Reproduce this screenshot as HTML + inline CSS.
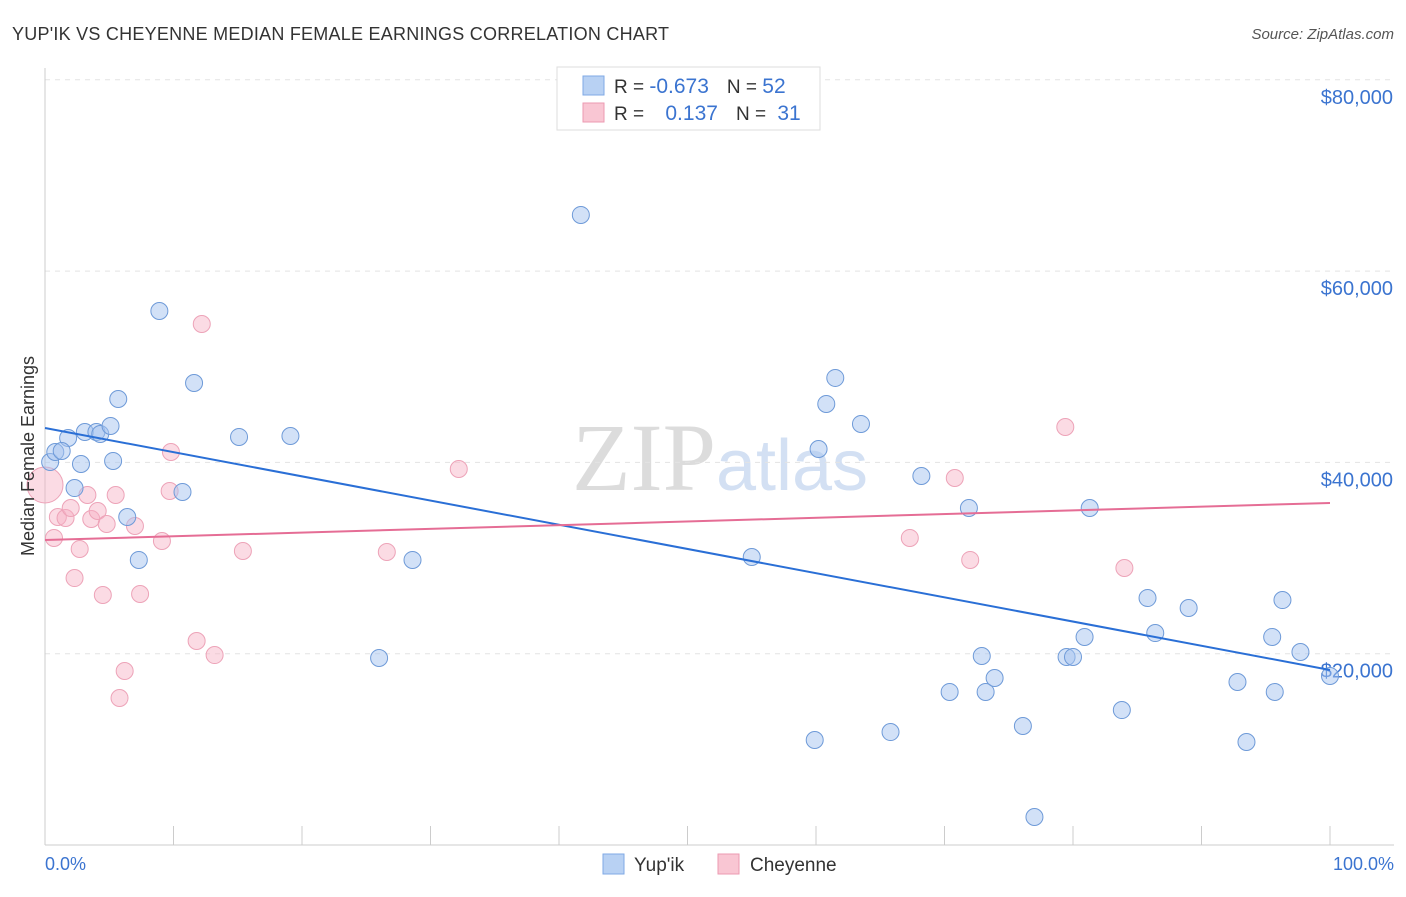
<!DOCTYPE html>
<html><head><meta charset="utf-8"><style>
body{margin:0;background:#fff;font-family:"Liberation Sans",sans-serif;}
svg text{font-family:"Liberation Sans",sans-serif;}
</style></head><body>
<svg id="chart" width="1406" height="892">
<text x="12" y="40" font-size="18" fill="#333" textLength="657">YUP'IK VS CHEYENNE MEDIAN FEMALE EARNINGS CORRELATION CHART</text>
<text x="1394" y="39" font-size="15" fill="#555" font-style="italic" text-anchor="end">Source: ZipAtlas.com</text>
<text x="720" y="490" font-size="96" fill="#dcdcdc" text-anchor="middle" font-family="Liberation Serif"><tspan font-family="Liberation Serif">ZIP</tspan><tspan fill="#d3e0f3" font-size="72" font-family="Liberation Sans">atlas</tspan></text>
<g id="grid"></g><g id="axes"></g><g id="pts"></g><g id="trend"></g>
<text transform="translate(34,456) rotate(-90)" font-size="18" fill="#333" text-anchor="middle">Median Female Earnings</text>
<text x="45" y="870" font-size="18" fill="#3b74d0">0.0%</text>
<text x="1394" y="870" font-size="18" fill="#3b74d0" text-anchor="end">100.0%</text>
<g>
<rect x="557" y="67" width="263" height="63" fill="#fff" stroke="#ddd"/>
<rect x="583" y="76" width="21" height="19" fill="#b8d1f3" stroke="#7fa9e6"/>
<rect x="583" y="103" width="21" height="19" fill="#f9c6d3" stroke="#ec9ab1"/>
<text x="614" y="93" font-size="19" fill="#333">R = <tspan fill="#3b74d0" font-size="21">-0.673</tspan><tspan dx="18">N = </tspan><tspan fill="#3b74d0" font-size="21">52</tspan></text>
<text x="614" y="120" font-size="19" fill="#333">R = <tspan fill="#3b74d0" dx="16" font-size="21">0.137</tspan><tspan dx="18">N = </tspan><tspan fill="#3b74d0" dx="6" font-size="21">31</tspan></text>
</g>
<g>
<rect x="603" y="854" width="21" height="20" fill="#b8d1f3" stroke="#7fa9e6"/>
<text x="634" y="871" font-size="19" fill="#333">Yup'ik</text>
<rect x="718" y="854" width="21" height="20" fill="#f9c6d3" stroke="#ec9ab1"/>
<text x="750" y="871" font-size="19" fill="#333">Cheyenne</text>
</g>
</svg>
<script>
const yTicks=[20000,40000,60000,80000];
const yTickLabels=["$20,000","$40,000","$60,000","$80,000"];
const blueX=[0.4,0.8,1.8,1.3,2.3,2.8,3.1,4.0,4.3,5.1,5.7,5.3,6.4,7.3,8.9,10.7,11.6,15.1,19.1,26.0,28.6,41.7,55.0,59.9,60.2,60.8,61.5,63.5,65.8,68.2,70.4,71.9,72.9,73.2,73.9,76.1,77.0,79.5,80.0,80.9,81.3,83.8,85.8,86.4,89.0,92.8,93.5,95.5,95.7,96.3,97.7,100];
const blueY=[40040,41090,42550,41190,37320,39830,43180,43180,42970,43810,46630,40150,34290,29800,55830,36910,48300,42660,42760,19550,29800,65870,30110,10980,41400,46110,48830,44020,11810,38580,16000,35230,19760,16000,17460,12440,2930,19660,19660,21750,35230,14110,25820,22160,24780,17040,10770,21750,16000,25610,20180,17670];
const pinkX=[0,0.7,1.0,1.6,2.0,2.3,2.7,3.3,3.6,4.1,4.5,4.8,5.5,5.8,6.2,7.0,7.4,9.1,9.7,9.8,11.8,12.2,13.2,15.4,26.6,32.2,67.3,70.8,72.0,79.4,84.0];
const pinkY=[37640,32100,34290,34190,35230,27910,30950,36590,34080,34920,26140,33560,36590,15370,18190,33350,26240,31780,37010,41090,21330,54470,19860,30740,30630,39310,32100,38370,29800,43700,28960];
const blueTrend=[43600,18300];
const pinkTrend=[31890,35760];
const X=p=>45+p/100*1285, Y=v=>845-v/20000*191.3;
const NS="http://www.w3.org/2000/svg";
function mk(t,a,parent){const e=document.createElementNS(NS,t);for(const k in a)e.setAttribute(k,a[k]);document.getElementById(parent).appendChild(e);return e;}
yTicks.forEach((v,i)=>{
 const l=mk('line',{x1:45,x2:1394,y1:Y(v),y2:Y(v),stroke:'#e3e3e3','stroke-dasharray':'5,5'},'grid');
 
 
 const t=mk('text',{x:1393,y:Y(v)+24,'font-size':20,fill:'#3b74d0','text-anchor':'end'},'grid');
 t.textContent=yTickLabels[i];
 
 
});
const ax=mk('line',{x1:45,x2:45,y1:68,y2:845,stroke:'#ccc'},'axes');


const bx=mk('line',{x1:45,x2:1394,y1:845,y2:845,stroke:'#ccc'},'axes');


for(let i=0;i<=10;i++){
 const t=mk('line',{x1:X(i*10),x2:X(i*10),y1:826,y2:845,stroke:'#ccc'},'axes');
 
 
}
pinkX.forEach((p,i)=>{
 const c=mk('circle',{cx:X(p),cy:Y(pinkY[i]),r:i==0?18:8.5,fill:'rgba(247,176,196,0.45)',stroke:'#eda3b8','stroke-width':1},'pts');
 
 
});
blueX.forEach((p,i)=>{
 const c=mk('circle',{cx:X(p),cy:Y(blueY[i]),r:8.5,fill:'rgba(166,196,240,0.5)',stroke:'#6e9ad8','stroke-width':1},'pts');
 
 
});
const bl=mk('line',{x1:X(0),x2:X(100),y1:Y(blueTrend[0]),y2:Y(blueTrend[1]),stroke:'#2a6fd6','stroke-width':2},'trend');


const pl=mk('line',{x1:X(0),x2:X(100),y1:Y(pinkTrend[0]),y2:Y(pinkTrend[1]),stroke:'#e56d95','stroke-width':2},'trend');


</script>
</body></html>
